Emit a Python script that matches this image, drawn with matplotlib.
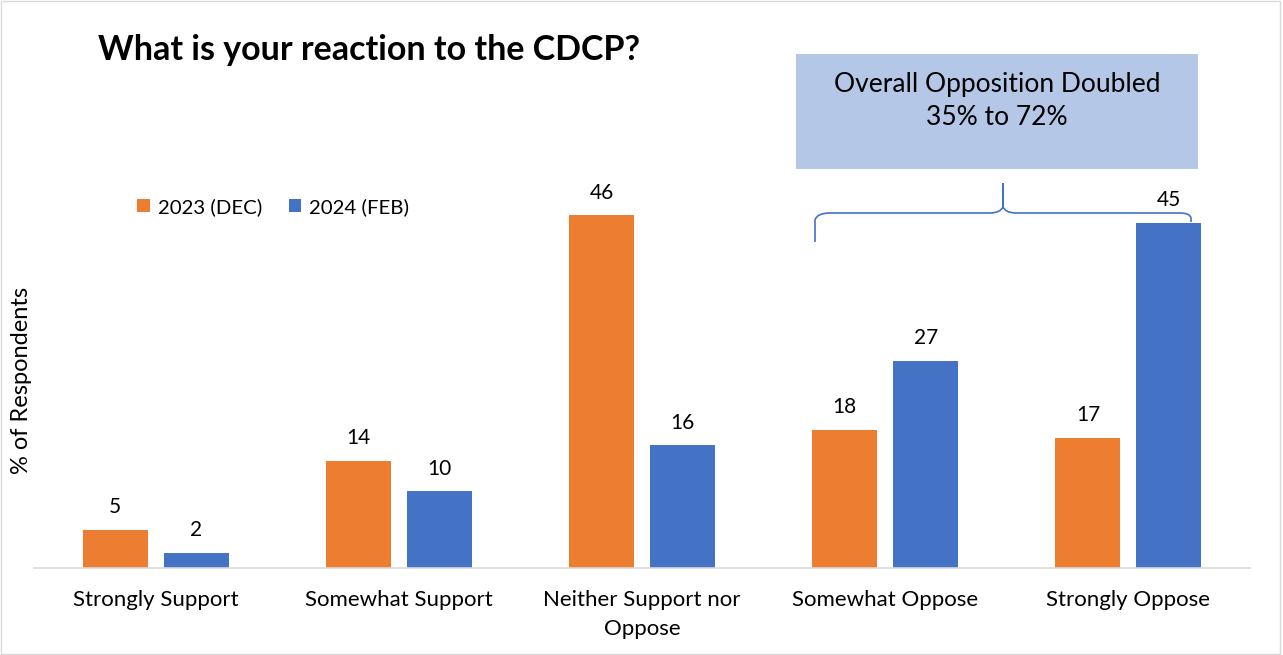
import numpy as np
import matplotlib.pyplot as plt
from matplotlib.path import Path
from matplotlib.patches import PathPatch, Rectangle

plt.rcParams['font.family'] = ['Lato', 'DejaVu Sans']

categories = ["Strongly Support", "Somewhat Support", "Neither Support nor\nOppose",
              "Somewhat Oppose", "Strongly Oppose"]
dec_2023 = [5, 14, 46, 18, 17]
feb_2024 = [2, 10, 16, 27, 45]
series_names = ["2023 (DEC)", "2024 (FEB)"]

W, H = 1283, 655
fig = plt.figure(figsize=(W / 100, H / 100), dpi=100)

def fx(px):
    return px / W

def fy(py):
    return 1 - py / H

ax = fig.add_axes([fx(34), fy(568), fx(1250) - fx(34), fy(110) - fy(568)])

x = np.arange(len(categories))
bw = 0.267
off = 0.1665
b1 = ax.bar(x - off, dec_2023, bw, color="#ED7D31", label=series_names[0])
b2 = ax.bar(x + off, feb_2024, bw, color="#4472C4", label=series_names[1])
for bars, vals in ((b1, dec_2023), (b2, feb_2024)):
    for rect, v in zip(bars, vals):
        ax.annotate(str(v), (rect.get_x() + rect.get_width() / 2, v),
                    xytext=(0, 9), textcoords="offset points",
                    ha="center", va="bottom", fontsize=15)

ax.set_xlim(-0.5, len(categories) - 0.5)
ax.set_ylim(0, 59.7)
ax.set_xticks(x)
ax.set_xticklabels(categories, fontsize=16, linespacing=1.55)
ax.tick_params(axis="x", length=0, pad=16)
ax.set_yticks([])
for s in ("top", "right", "left"):
    ax.spines[s].set_visible(False)
ax.spines["bottom"].set_color("#D9D9D9")
ax.spines["bottom"].set_linewidth(1.2)

fig.text(fx(22), fy(380), "% of Respondents", rotation=90, ha="center",
         va="center", fontsize=17)

fig.text(fx(98), fy(50), "What is your reaction to the CDCP?", fontsize=24.5,
         fontweight="bold", ha="left", va="center")

fig.legend(loc="center left", bbox_to_anchor=(fx(119), fy(207)), ncol=2,
           frameon=False, fontsize=14.7, handlelength=0.6, handleheight=0.6,
           handletextpad=0.4, columnspacing=1.3)

# callout box
fig.patches.append(Rectangle((fx(796), fy(169)), fx(1198) - fx(796), fy(54) - fy(169),
                             transform=fig.transFigure, facecolor="#B4C7E7",
                             edgecolor="none"))
fig.text(fx(997), fy(101), "Overall Opposition Doubled\n35% to 72%", ha="center",
         va="center", fontsize=19, linespacing=1.4)

# brace
pts = [(815, 242), (815, 220), (817, 213), (830, 213),
       (990, 213), (1000, 213), (1003, 207), (1003, 183),
       (1003, 207), (1006, 213), (1016, 213),
       (1180, 213), (1190, 213), (1191, 218), (1191, 222)]
codes = [Path.MOVETO, Path.LINETO, Path.CURVE3, Path.CURVE3,
         Path.LINETO, Path.CURVE3, Path.CURVE3, Path.LINETO,
         Path.LINETO, Path.CURVE3, Path.CURVE3,
         Path.LINETO, Path.CURVE3, Path.CURVE3, Path.LINETO]
brace = Path([(fx(a), fy(b)) for a, b in pts], codes)
fig.patches.append(PathPatch(brace, transform=fig.transFigure, facecolor="none",
                             edgecolor="#4472C4", linewidth=1.2))

# chart border
fig.patches.append(Rectangle((0.001, 0.001), 0.997, 0.997, transform=fig.transFigure,
                             facecolor="none", edgecolor="#D9D9D9", linewidth=1))

fig.savefig("out.png", dpi=100)
